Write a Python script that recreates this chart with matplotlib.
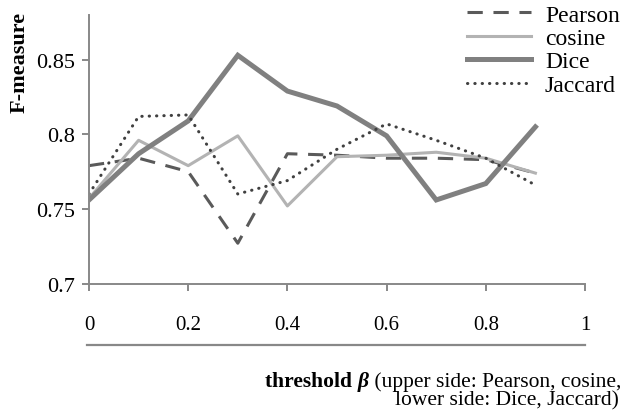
import numpy as np
import matplotlib
matplotlib.use("Agg")
import matplotlib.pyplot as plt
from matplotlib.lines import Line2D

plt.rcParams['font.family'] = ['Liberation Serif', 'DejaVu Serif']

# threshold beta and F-measure per similarity
beta = [0.0, 0.1, 0.2, 0.3, 0.4, 0.5, 0.6, 0.7, 0.8, 0.9]
pearson = [0.779, 0.784, 0.775, 0.727, 0.787, 0.786, 0.784, 0.784, 0.783, 0.774]
cosine = [0.757, 0.796, 0.779, 0.799, 0.752, 0.785, 0.786, 0.788, 0.784, 0.774]
dice = [0.756, 0.787, 0.809, 0.853, 0.829, 0.819, 0.799, 0.756, 0.767, 0.805]
jaccard = [0.760, 0.812, 0.813, 0.760, 0.769, 0.790, 0.807, 0.796, 0.784, 0.766]

x_ticks = [0, 0.2, 0.4, 0.6, 0.8, 1]
x_tick_labels = ['0', '0.2', '0.4', '0.6', '0.8', '1']
y_ticks = [0.7, 0.75, 0.8, 0.85]
y_tick_labels = ['0.7', '0.75', '0.8', '0.85']

W, H = 623, 414
fig = plt.figure(figsize=(W / 100, H / 100), dpi=100)
ax = fig.add_axes([89 / W, 1 - 284.5 / H, (585 - 89) / W, (284.5 - 16) / H])

ax.plot(beta, pearson, color='#5a5a5a', lw=2.2, ls=(0, (5, 3.5)), label='Pearson')
ax.plot(beta, cosine, color='#b3b3b3', lw=2.2, label='cosine')
ax.plot(beta, dice, color='#808080', lw=3.6, solid_joinstyle='miter', label='Dice')
ax.plot(beta, jaccard, color='#404040', lw=2.2, ls=(0, (0.1, 2.3)),
        dash_capstyle='round', label='Jaccard')

ax.set_xlim(0, 1)
ax.set_ylim(0.7, 0.88)
ax.set_xticks(x_ticks, x_tick_labels)
ax.set_yticks(y_ticks, y_tick_labels)
for s in ['top', 'right']:
    ax.spines[s].set_visible(False)
for s in ['left', 'bottom']:
    ax.spines[s].set_color('#888888')
    ax.spines[s].set_linewidth(1.4)
ax.tick_params(axis='both', colors='#888888', width=1.4, length=5, labelcolor='black')
ax.tick_params(axis='x', pad=18, labelsize=15)
ax.tick_params(axis='y', pad=5, labelsize=16)

# second rule under the tick labels
fig.add_artist(Line2D([87 / W, 585 / W], [1 - 346 / H, 1 - 346 / H],
                      color='#888888', lw=1.6))

leg = ax.legend(loc='upper left', bbox_to_anchor=(467 / W, 1 - 5 / H),
                bbox_transform=fig.transFigure, frameon=False, fontsize=17,
                handlelength=2.7, handletextpad=0.6, labelspacing=0.08,
                borderpad=0, borderaxespad=0)

fig.text(20 / W, 1 - 12 / H, 'F-measure', rotation=90, fontsize=16,
         fontweight='bold', ha='center', va='top')

# x label: bold part, bold italic beta, then the regular part, right aligned
y1 = 1 - 382 / H
t1 = fig.text(621 / W, y1, ' (upper side: Pearson, cosine,', fontsize=15.5,
              ha='right', va='center')
fig.canvas.draw()
x0 = t1.get_window_extent().x0
t2 = fig.text(x0 / W, y1, '\u03b2', fontsize=15.5, fontweight='bold',
              fontstyle='italic', ha='right', va='center')
fig.canvas.draw()
x0 = t2.get_window_extent().x0
fig.text(x0 / W, y1, 'threshold ', fontsize=15.5, fontweight='bold',
         ha='right', va='center')
fig.text(619 / W, 1 - 401 / H, 'lower side: Dice, Jaccard)', fontsize=15.5,
         ha='right', va='center')

fig.savefig('out.png', dpi=100)
